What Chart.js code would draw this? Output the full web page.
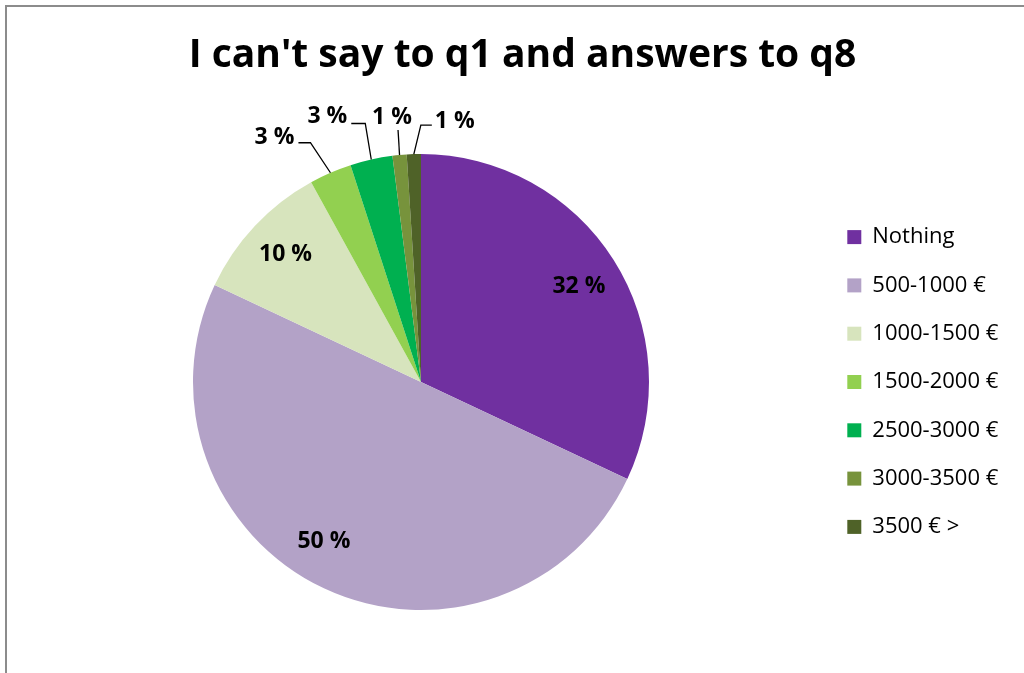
<!DOCTYPE html>
<html>
<head>
<meta charset="utf-8">
<title>I can't say to q1 and answers to q8</title>
<script src="https://cdn.jsdelivr.net/npm/chart.js@4.4.0/dist/chart.umd.min.js"></script>
<style>
  html, body { margin: 0; padding: 0; background: #ffffff; }
  #wrap { width: 1024px; height: 673px; position: relative; }
</style>
</head>
<body>
<div id="wrap"><canvas id="chart"></canvas></div>
<script>
// Answer groups and their shares (percent)
const categories = ['Nothing', '500-1000 €', '1000-1500 €', '1500-2000 €', '2500-3000 €', '3000-3500 €', '3500 € >'];
const shares = [32, 50, 10, 3, 3, 1, 1];
const sliceColors = ['#7030A0', '#B3A2C7', '#D7E4BD', '#92D050', '#00B050', '#77933C', '#4F6228'];
const chartTitle = "I can't say to q1 and answers to q8";

const FONT = '"Open Sans", Lato, sans-serif';

// Leader-line layout for the thin slices, whose labels sit outside the pie:
// elbow offset from the rim point, horizontal run after the elbow, text placement.
const leaderLayout = {
  3: { elbow: [-20, -30], run: -12, align: 'right',  tx: -4, ty: -5 },
  4: { elbow: [-6, -36],  run: -14, align: 'right',  tx: -4, ty: -7 },
  5: { elbow: [-1.5, -25], run: 0,  align: 'center', tx: -6, ty: -13 },
  6: { elbow: [7, -29],   run: 11,  align: 'left',   tx: 3,  ty: -4 }
};
// Small nudges for the labels drawn inside the pie
const insideNudge = { 1: [-18, -9], 0: [1, 4] };

const frame = {
  id: 'frame',
  beforeDraw(chart) {
    const ctx = chart.ctx;
    ctx.save();
    ctx.fillStyle = '#ffffff';
    ctx.fillRect(0, 0, chart.width, chart.height);
    ctx.strokeStyle = '#8c8c8c';
    ctx.lineWidth = 2;
    ctx.beginPath();
    ctx.moveTo(chart.width + 2, 6);
    ctx.lineTo(6, 6);
    ctx.lineTo(6, chart.height + 2);
    ctx.stroke();
    ctx.restore();
  }
};

const sliceLabels = {
  id: 'sliceLabels',
  afterDatasetsDraw(chart) {
    const ctx = chart.ctx;
    const meta = chart.getDatasetMeta(0);
    const values = chart.data.datasets[0].data;
    ctx.save();
    ctx.font = 'bold 23px ' + FONT;
    ctx.fillStyle = '#000000';
    ctx.textBaseline = 'middle';
    meta.data.forEach((arc, i) => {
      const p = arc.getProps(['x', 'y', 'startAngle', 'endAngle', 'outerRadius'], true);
      const mid = (p.startAngle + p.endAngle) / 2;
      const text = values[i] + ' %';
      const lay = leaderLayout[i];
      if (!lay) {
        const rr = p.outerRadius * 0.815;
        const n = insideNudge[i] || [0, 0];
        ctx.textAlign = 'center';
        ctx.fillText(text, p.x + Math.cos(mid) * rr + n[0], p.y + Math.sin(mid) * rr + n[1]);
        return;
      }
      const ax = p.x + Math.cos(mid) * p.outerRadius;
      const ay = p.y + Math.sin(mid) * p.outerRadius;
      const ex = ax + lay.elbow[0];
      const ey = ay + lay.elbow[1];
      const endX = ex + lay.run;
      ctx.strokeStyle = '#000000';
      ctx.lineWidth = 1.3;
      ctx.beginPath();
      ctx.moveTo(ax, ay);
      ctx.lineTo(ex, ey);
      if (lay.run !== 0) ctx.lineTo(endX, ey);
      ctx.stroke();
      ctx.textAlign = lay.align;
      ctx.fillText(text, endX + lay.tx, ey + lay.ty);
    });
    ctx.restore();
  }
};

// Fixed legend column on the right
const legendWidth = {
  id: 'legendWidth',
  beforeInit(chart) {
    const lg = chart.legend;
    if (!lg) return;
    const fit = lg.fit;
    lg.fit = function () {
      fit.call(this);
      this.width = 203;
    };
  }
};

new Chart(document.getElementById('chart'), {
  type: 'pie',
  data: {
    labels: categories,
    datasets: [{
      data: shares,
      backgroundColor: sliceColors,
      borderWidth: 0
    }]
  },
  options: {
    responsive: true,
    maintainAspectRatio: false,
    animation: false,
    layout: { padding: { top: 0, left: 21, right: 0, bottom: 63 } },
    plugins: {
      title: {
        display: true,
        text: chartTitle,
        color: '#000000',
        font: { family: FONT, size: 39, weight: 'bold' },
        padding: { top: 32, bottom: 75.2 }
      },
      legend: {
        position: 'right',
        align: 'center',
        fullSize: false,
        labels: {
          boxWidth: 14,
          boxHeight: 14,
          padding: 26.3,
          color: '#000000',
          font: { family: FONT, size: 22 }
        }
      },
      tooltip: { enabled: false }
    }
  },
  plugins: [frame, sliceLabels, legendWidth]
});
</script>
</body>
</html>
